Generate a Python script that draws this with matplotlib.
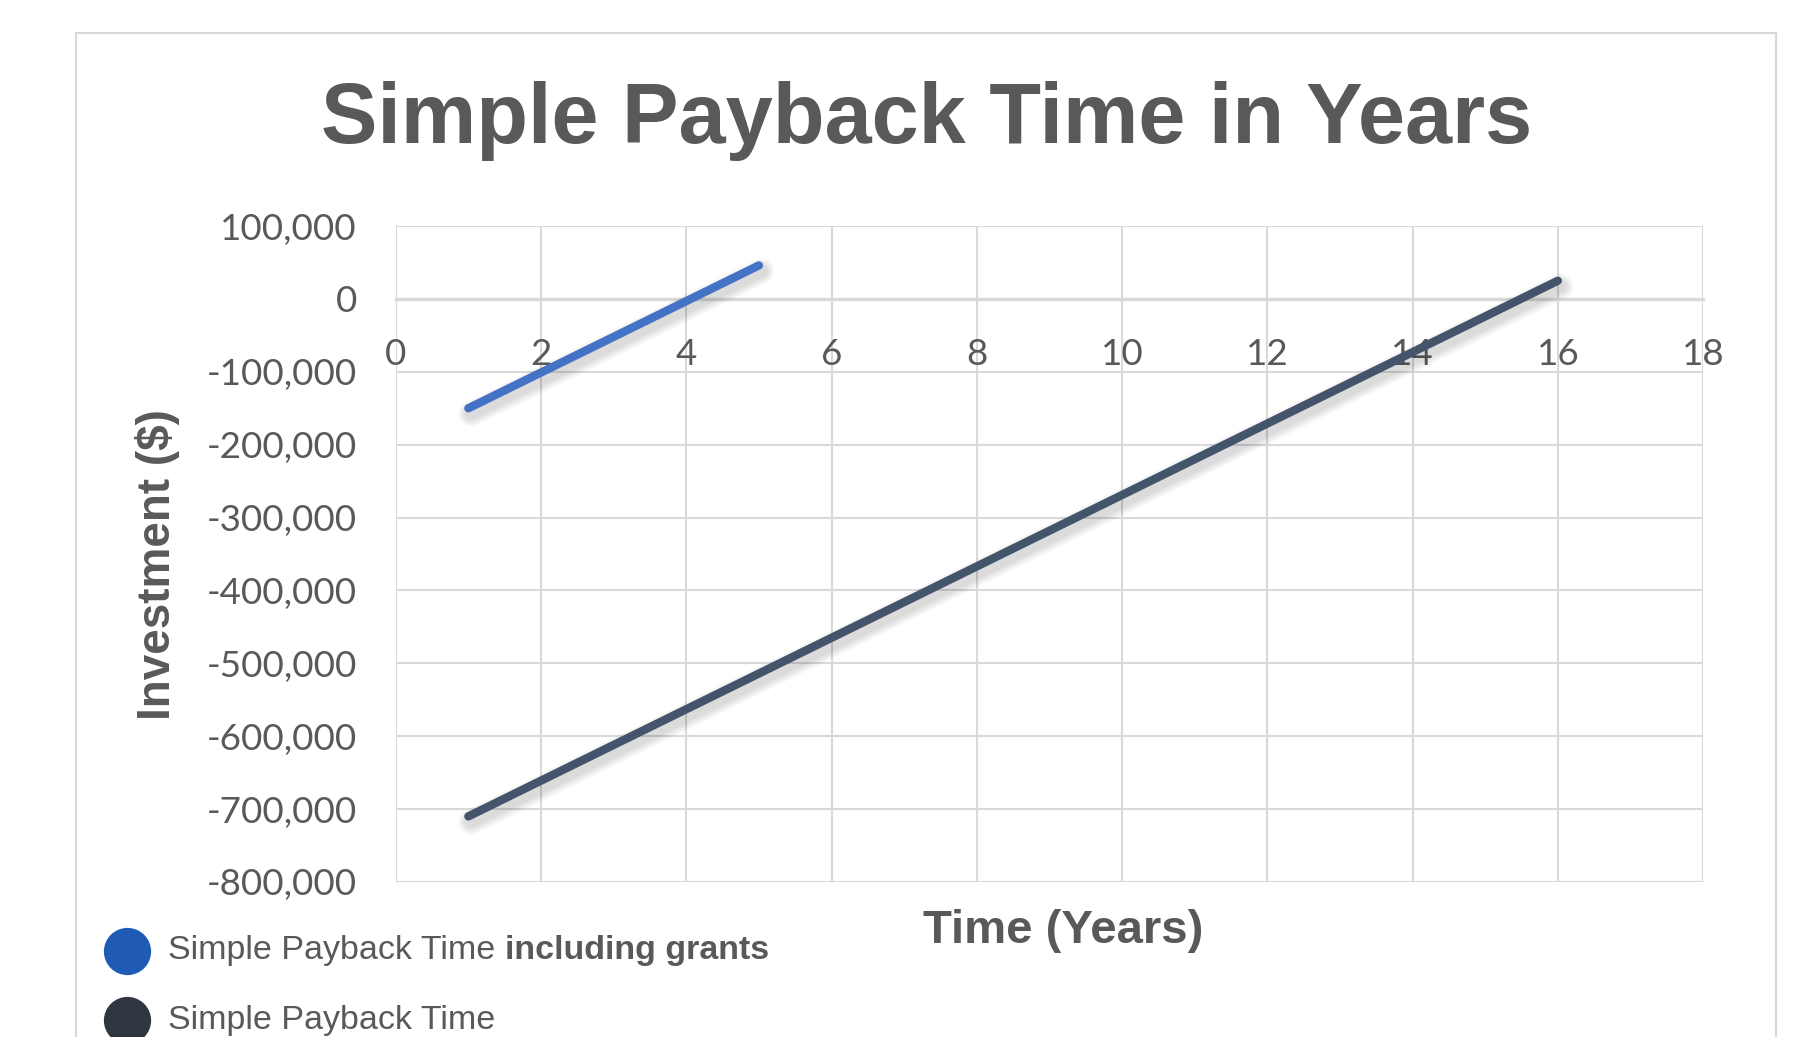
import matplotlib
matplotlib.use("Agg")
import matplotlib.pyplot as plt
import matplotlib.patheffects as pe
from matplotlib.ticker import FuncFormatter

# data
years_grants = [1, 2, 3, 4, 5]
invest_grants = [-150000, -101000, -52000, -3000, 46000]
years_plain = [1, 2, 3, 4, 5, 6, 7, 8, 9, 10, 11, 12, 13, 14, 15, 16]
invest_plain = [-710000, -661000, -612000, -563000, -514000, -465000, -416000, -367000,
                -318000, -269000, -220000, -171000, -122000, -73000, -24000, 25000]
x_ticks = [0, 2, 4, 6, 8, 10, 12, 14, 16, 18]
y_ticks = [100000, 0, -100000, -200000, -300000, -400000, -500000, -600000, -700000, -800000]

blue = '#4472C4'
dark = '#44546A'
grid_col = '#D9D9D9'
text_col = '#595959'

fig = plt.figure(figsize=(18.07, 10.37), dpi=100)
ax = fig.add_axes([0.219, 0.1495, 0.7235, 0.6325])

# outer chart border
fig.add_artist(plt.Rectangle((76 / 1807, -0.05), (1776 - 76) / 1807, 1 - 33 / 1037 + 0.05,
                             transform=fig.transFigure, fill=False, edgecolor=grid_col, lw=1.5))

# soft shadow, a few wide faint strokes
shadow = [pe.SimpleLineShadow(offset=(2, -4), shadow_color='black', alpha=0.035, linewidth=w)
          for w in (18, 15, 12, 9)] + [pe.Normal()]
ax.plot(years_plain, invest_plain, color=dark, lw=6, solid_capstyle='round', path_effects=shadow, zorder=3)
ax.plot(years_grants, invest_grants, color=blue, lw=6, solid_capstyle='round', path_effects=shadow, zorder=3)

ax.set_xlim(0, 18)
ax.set_ylim(-800000, 100000)
ax.set_xticks(x_ticks)
ax.set_yticks(y_ticks)
ax.yaxis.set_major_formatter(FuncFormatter(lambda v, p: f'{int(v):,}'))
ax.grid(True, color=grid_col, lw=1.5)
ax.set_axisbelow(True)
for s in ['top', 'right', 'left']:
    ax.spines[s].set_visible(False)
ax.spines['bottom'].set_position(('data', 0))
ax.spines['bottom'].set_color(grid_col)
ax.spines['bottom'].set_linewidth(2.5)
ax.tick_params(length=0, labelsize=26.5, labelcolor=text_col)
ax.tick_params(axis='y', pad=28)
ax.tick_params(axis='x', pad=28)
for lbl in ax.get_xticklabels() + ax.get_yticklabels():
    lbl.set_fontfamily('Lato')

fig.text(927 / 1807, 1 - 121 / 1037, 'Simple Payback Time in Years', ha='center', va='center',
         fontsize=61, fontweight='bold', color=text_col, family='Liberation Sans')
fig.text(157 / 1807, 1 - 565 / 1037, 'Investment ($)', ha='center', va='center', rotation=90,
         fontsize=33, fontweight='bold', color=text_col, family='Liberation Sans')
fig.text(1063 / 1807, 1 - 931 / 1037, 'Time (Years)', ha='center', va='center',
         fontsize=34, fontweight='bold', color=text_col, family='Liberation Sans')

# legend drawn by hand (second part of the first label is bold)
leg_items = [('#1F5BB5', 'Simple Payback Time ', 'including grants', 951),
             ('#2E3640', 'Simple Payback Time', '', 1020)]
fig.canvas.draw()
r = fig.canvas.get_renderer()
for col, normal, bold, ypx in leg_items:
    yf = 1 - ypx / 1037
    fig.add_artist(plt.Line2D([127 / 1807], [yf], marker='o', markersize=33, color=col,
                              transform=fig.transFigure))
    t = fig.text(168 / 1807, yf, normal, ha='left', va='center', fontsize=24.5, color=text_col,
                 family='Liberation Sans')
    if bold:
        bb = t.get_window_extent(r)
        fig.text(bb.x1 / 1807, yf, bold, ha='left', va='center', fontsize=24.5, color=text_col,
                 fontweight='bold', family='Liberation Sans')

fig.savefig('out.png', dpi=100)
